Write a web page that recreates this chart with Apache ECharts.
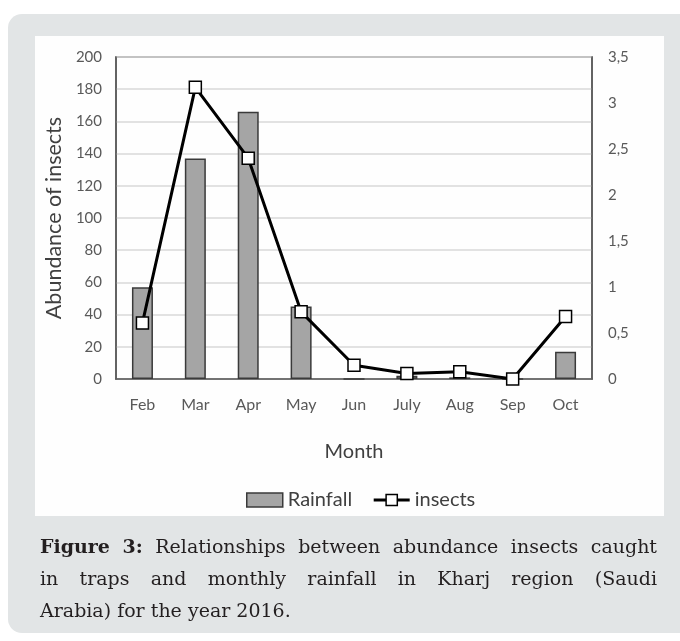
<!DOCTYPE html>
<html>
<head>
<meta charset="utf-8">
<script src="https://cdn.jsdelivr.net/npm/echarts@6/dist/echarts.min.js"></script>
<style>html,body{margin:0;padding:0;background:#fff;}#c{width:680px;height:641px;}</style>
</head>
<body>
<div id="c"></div>
<script>
// ---- data ----
const months = ['Feb', 'Mar', 'Apr', 'May', 'Jun', 'July', 'Aug', 'Sep', 'Oct'];
const rainfall = [57, 137, 166, 45, 0, 2, 1, 0, 17];
const insects = [0.61, 3.17, 2.40, 0.73, 0.15, 0.06, 0.08, 0.0, 0.68];
const leftAxisMax = 200, leftAxisStep = 20;
const rightAxisMax = 3.5, rightAxisStep = 0.5;
const captionBold = 'Figure 3:';
const captionLines = [
  'Relationships between abundance insects caught',
  'in traps and monthly rainfall in Kharj region (Saudi',
  'Arabia) for the year 2016.'
];

// ---- caption layout (justified) ----
const capFont = 'DejaVu Serif';
const capSize = 19;
const capLeft = 40, capRight = 657;
const capTop = [548, 580, 612];
const mctx = document.createElement('canvas').getContext('2d');
function tw(t, bold) { mctx.font = (bold ? 'bold ' : '') + capSize + 'px "' + capFont + '"'; return mctx.measureText(t).width; }
const capGraphics = [];
function addWords(words, y, justify) {
  const widths = words.map(w => tw(w.t, w.b));
  const total = widths.reduce((a, b) => a + b, 0);
  const space = justify ? (capRight - capLeft - total) / (words.length - 1) : tw(' ', false);
  let x = capLeft;
  words.forEach((w, i) => {
    capGraphics.push({ type: 'text', x: x, y: y, style: { text: w.t, font: (w.b ? 'bold ' : '') + capSize + 'px "' + capFont + '"', fill: '#231f20', verticalAlign: 'middle' } });
    x += widths[i] + space;
  });
}
addWords(captionBold.split(' ').map(t => ({ t, b: true })).concat(captionLines[0].split(' ').map(t => ({ t, b: false }))), capTop[0], true);
addWords(captionLines[1].split(' ').map(t => ({ t, b: false })), capTop[1], true);
addWords(captionLines[2].split(' ').map(t => ({ t, b: false })), capTop[2], false);

const chart = echarts.init(document.getElementById('c'), null, { renderer: 'canvas' });
const lab = '#595959';
const ff = 'Lato';
chart.setOption({
  backgroundColor: '#ffffff',
  animation: false,
  graphic: [
    { type: 'rect', z: -10, shape: { x: 8, y: 14, width: 700, height: 619, r: 14 }, style: { fill: '#e2e5e6' } },
    { type: 'rect', z: -9, shape: { x: 35, y: 36, width: 629, height: 480 }, style: { fill: '#fefefe' } }
  ].concat(capGraphics),
  grid: { left: 116, top: 57, right: 88, bottom: 262, show: true, borderColor: '#595959', borderWidth: 1.5, backgroundColor: 'transparent' },
  legend: {
    top: 485, left: 241,
    itemGap: 20,
    textStyle: { fontFamily: ff, fontSize: 20, color: '#404040' },
    data: [
      { name: 'Rainfall', icon: 'rect', itemStyle: { color: '#a5a5a5', borderColor: '#3a3a3a', borderWidth: 1.5 } },
      { name: 'insects', lineStyle: { width: 3, color: '#000' }, itemStyle: { color: '#fff', borderColor: '#000', borderWidth: 1.5 } }
    ],
    itemWidth: 36, itemHeight: 14
  },
  xAxis: {
    type: 'category', data: months, boundaryGap: true,
    axisLine: { lineStyle: { color: '#595959', width: 1.5 } },
    axisTick: { show: false },
    axisLabel: { color: lab, fontFamily: ff, fontSize: 16, margin: 18 },
    name: 'Month', nameLocation: 'middle', nameGap: 63,
    nameTextStyle: { fontFamily: ff, fontSize: 20, color: '#404040' }
  },
  yAxis: [
    {
      type: 'value', min: 0, max: leftAxisMax, interval: leftAxisStep,
      axisLine: { show: true, lineStyle: { color: '#595959', width: 1.5 } },
      axisTick: { show: false },
      splitLine: { lineStyle: { color: '#d9d9d9', width: 1.5 } },
      axisLabel: { color: lab, fontFamily: ff, fontSize: 15, margin: 14 },
      name: 'Abundance of insects', nameLocation: 'middle', nameGap: 46,
      nameTextStyle: { fontFamily: ff, fontSize: 21.5, color: '#404040' }
    },
    {
      type: 'value', min: 0, max: rightAxisMax, interval: rightAxisStep, position: 'right',
      axisLine: { show: true, lineStyle: { color: '#595959', width: 1.5 } },
      axisTick: { show: false },
      splitLine: { show: false },
      axisLabel: { color: lab, fontFamily: ff, fontSize: 15, margin: 16, formatter: v => String(v).replace('.', ',') }
    }
  ],
  series: [
    {
      name: 'Rainfall', type: 'bar', yAxisIndex: 0, data: rainfall, barWidth: 21,
      itemStyle: { color: '#a5a5a5', borderColor: '#3a3a3a', borderWidth: 1.5 }
    },
    {
      name: 'insects', type: 'line', yAxisIndex: 1, data: insects,
      symbol: 'rect', symbolSize: 12,
      lineStyle: { color: '#000', width: 3 },
      itemStyle: { color: '#fff', borderColor: '#000', borderWidth: 1.5 }
    }
  ]
});
</script>
</body>
</html>
